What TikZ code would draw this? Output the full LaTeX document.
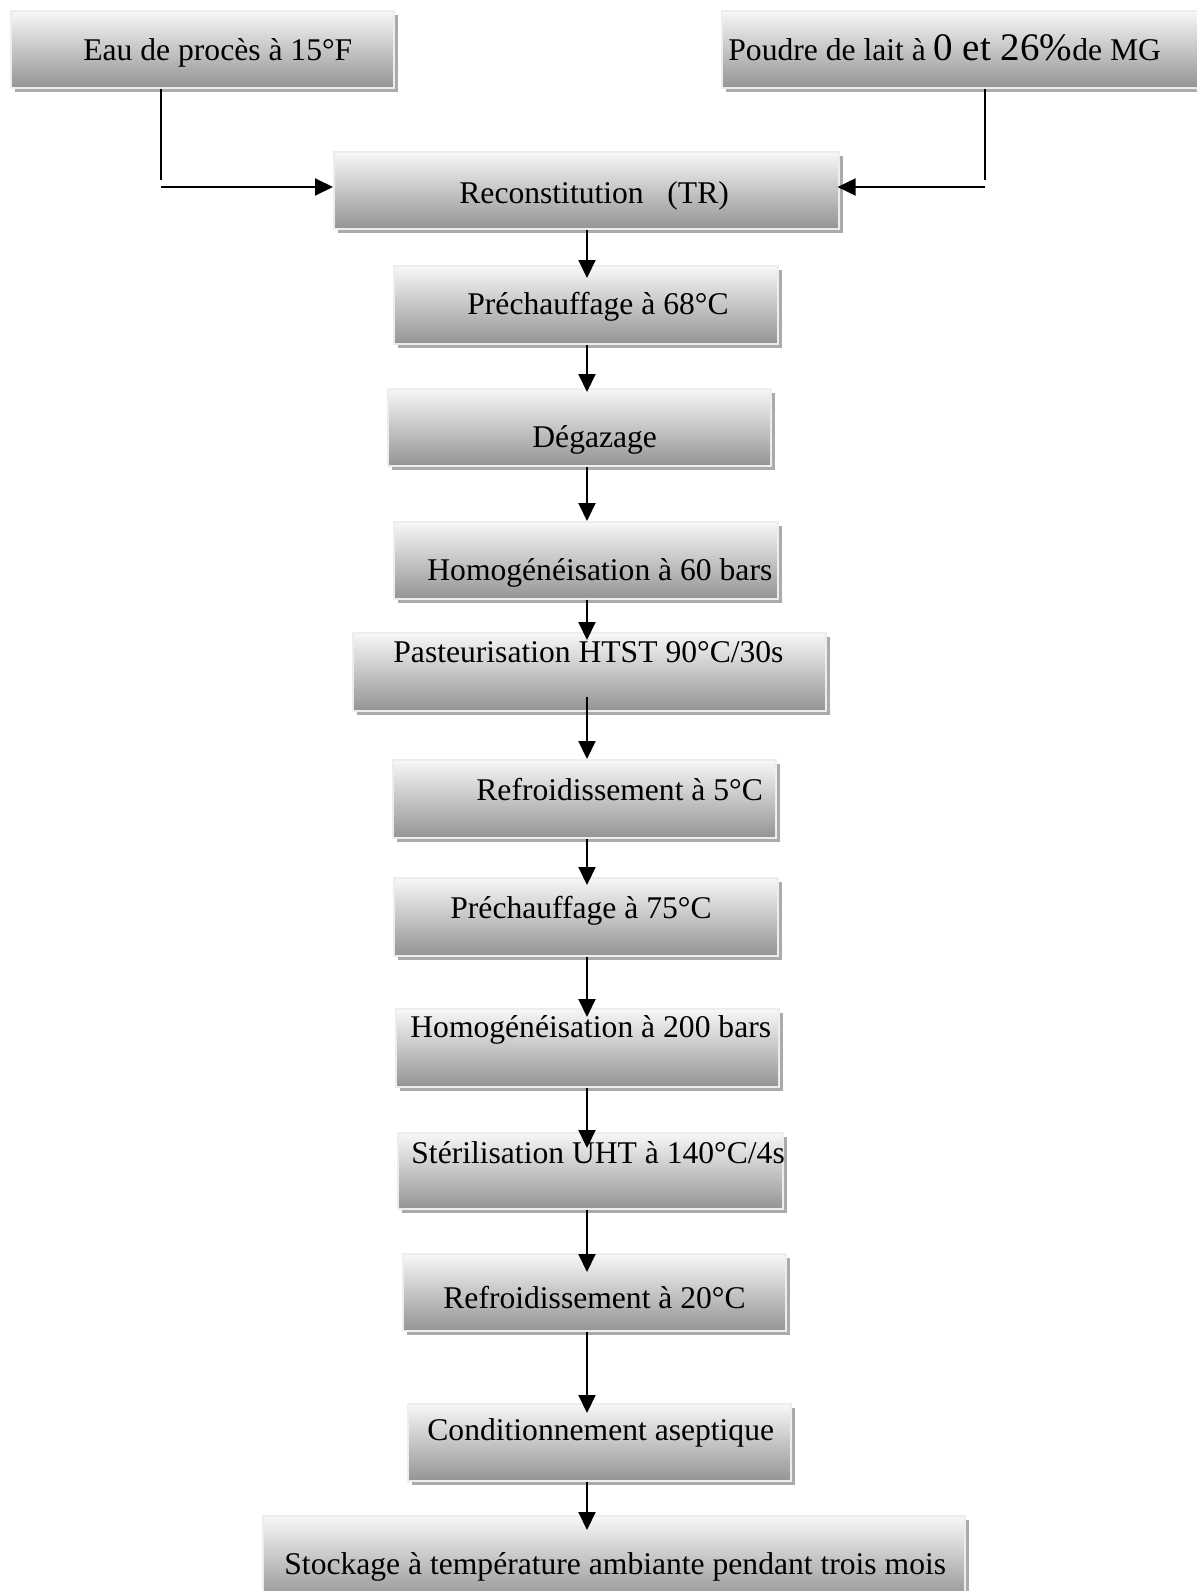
\documentclass[tikz,border=0pt]{standalone}
\usepackage{fontspec}
\setmainfont{Liberation Serif}
\usetikzlibrary{arrows.meta,shadows}

\tikzset{
  stepbox/.style={rectangle, anchor=north west, inner sep=0pt,
    draw=black!7, line width=0.8pt,
    top color=black!3, bottom color=black!42,
    general shadow={fill=black!33, shadow xshift=2.2pt, shadow yshift=-2.2pt}},
  steptext/.style={anchor=base west, inner sep=0pt,
    font=\fontsize{15.8pt}{19pt}\selectfont},
  flow/.style={line width=1pt, draw=black},
  arr/.style={flow, -{Triangle[width=8.5pt,length=9pt]}}
}

\begin{document}
\begin{tikzpicture}[x=0.5pt, y=-0.5pt]
\useasboundingbox (0,0) rectangle (1197,1591);

% process boxes
\node[stepbox, minimum width=191.5pt, minimum height=38.5pt] (eau)    at (10,10)   {};
\node[stepbox, minimum width=242pt,   minimum height=38.5pt] (poudre) at (721,10)  {};
\node[stepbox, minimum width=252.5pt, minimum height=38.5pt] (recon)  at (333,151) {};
\node[stepbox, minimum width=192pt,   minimum height=39pt]   (pre68)  at (393,265) {};
\node[stepbox, minimum width=191.5pt, minimum height=38.5pt] (degaz)  at (387,388) {};
\node[stepbox, minimum width=192pt,   minimum height=38.5pt] (homo60) at (393,521) {};
\node[stepbox, minimum width=236.5pt, minimum height=39pt]   (pasteur) at (352,632) {};
\node[stepbox, minimum width=191.5pt, minimum height=39pt]   (refr5)  at (392,759) {};
\node[stepbox, minimum width=192pt,   minimum height=39pt]   (pre75)  at (393,877) {};
\node[stepbox, minimum width=191.5pt, minimum height=39pt]   (homo200) at (395,1008) {};
\node[stepbox, minimum width=192.5pt, minimum height=38pt]   (steril) at (397,1132) {};
\node[stepbox, minimum width=191.5pt, minimum height=38.5pt] (refr20) at (402,1253) {};
\node[stepbox, minimum width=191.5pt, minimum height=38.5pt] (condit) at (407,1403) {};
\node[stepbox, minimum width=351pt,   minimum height=42.5pt] (stock)  at (262,1515) {};

% box texts
\node[steptext] (teau) at (83,60) {Eau de procès à 15°F};
\node[steptext] (tpoudre) at (728,60) {Poudre de lait à {\fontsize{19.5pt}{23pt}\selectfont 0 et 26\%}de MG};
\node[steptext] (trecon) at (459,203) {Reconstitution\hspace{0.75em}(TR)};
\node[steptext] (tpre68) at (467,314) {Préchauffage à 68°C};
\node[steptext] (tdegaz) at (532,447) {Dégazage};
\node[steptext] (thomo60) at (427,580) {Homogénéisation à 60 bars};
\node[steptext] (tpasteur) at (393,662) {Pasteurisation HTST 90°C/30s};
\node[steptext] (trefr5) at (476,800) {Refroidissement à 5°C};
\node[steptext] (tpre75) at (450,918) {Préchauffage à 75°C};
\node[steptext] (thomo200) at (410,1037) {Homogénéisation à 200 bars};
\node[steptext] (tsteril) at (411,1163) {Stérilisation UHT à 140°C/4s};
\node[steptext] (trefr20) at (443,1308) {Refroidissement à 20°C};
\node[steptext] (tcondit) at (427,1440) {Conditionnement aseptique};
\node[steptext] (tstock) at (284,1574) {Stockage à température ambiante pendant trois mois};

% feeds into the reconstitution step
\coordinate (lbend) at (161,180);
\coordinate (lfeed) at (161,187);
\coordinate (rbend) at (985,180);
\coordinate (rfeed) at (985,187);
\draw[flow] (eau.south -| lbend) -- (lbend);
\draw[arr] (lfeed) -- (lfeed -| recon.west);
\draw[flow] (poudre.south -| rbend) -- (rbend);
\draw[arr, shorten >=-1pt] (rfeed) -- (rfeed -| recon.east);

% main process line
\coordinate (spine) at (587,0);
\draw[arr, shorten >=-6.5pt] (recon.south -| spine) -- (pre68.north -| spine);
\draw[arr, shorten >=-2pt]   (pre68.south -| spine) -- (degaz.north -| spine);
\draw[arr]                   (degaz.south -| spine) -- (homo60.north -| spine);
\draw[arr, shorten >=-4pt]   (homo60.south -| spine) -- (pasteur.north -| spine);
\draw[arr, shorten <=-7.5pt] (pasteur.south -| spine) -- (refr5.north -| spine);
\draw[arr, shorten >=-4pt]   (refr5.south -| spine) -- (pre75.north -| spine);
\draw[arr, shorten >=-4.5pt] (pre75.south -| spine) -- (homo200.north -| spine);
\draw[arr, shorten >=-8pt]   (homo200.south -| spine) -- (steril.north -| spine);
\draw[arr, shorten >=-9.5pt] (steril.south -| spine) -- (refr20.north -| spine);
\draw[arr, shorten >=-5pt]   (refr20.south -| spine) -- (condit.north -| spine);
\draw[arr, shorten >=-7.5pt] (condit.south -| spine) -- (stock.north -| spine);
\end{tikzpicture}
\end{document}
